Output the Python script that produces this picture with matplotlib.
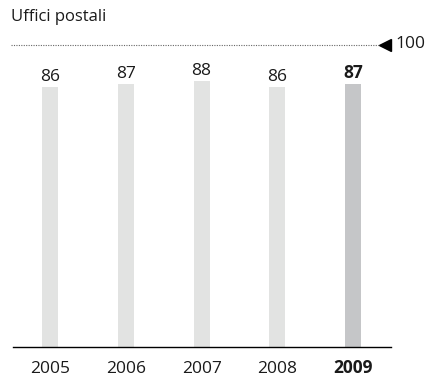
import matplotlib.pyplot as plt

years = ["2005", "2006", "2007", "2008", "2009"]
values = [86, 87, 88, 86, 87]
reference = 100
title = "Uffici postali"

plt.rcParams["font.family"] = ["Open Sans", "DejaVu Sans"]

fig = plt.figure(figsize=(4.28, 3.78), dpi=100)
ax = fig.add_axes([13 / 428, 1 - 347 / 378, 378 / 428, (347 - 44.5) / 378])

xs = range(len(years))
colors = ["#e2e3e2"] * (len(years) - 1) + ["#c5c6c8"]
ax.bar(xs, values, width=0.21, color=colors, zorder=2)

for i, v in enumerate(values):
    bold = i == len(values) - 1
    ax.annotate(str(v), (i, v), xytext=(0, 4.5), textcoords="offset points",
                ha="center", va="baseline", fontsize=12.5,
                fontweight="bold" if bold else "normal", color="#1a1a1a")

ax.set_xlim(-0.49, 4.5)
ax.set_ylim(0, 100)

# reference line at 100 with pointer
ax.plot([-0.005, 0.975], [1, 1], transform=ax.transAxes, color="#666666",
        linestyle=(0, (1, 1.2)), linewidth=0.8, clip_on=False)
ax.plot([0.985], [1], transform=ax.transAxes, marker="<", markersize=8,
        color="black", clip_on=False)
ax.text(1.012, 1, str(reference), transform=ax.transAxes, ha="left",
        va="center", fontsize=12.5, color="#1a1a1a")

for s in ["top", "right", "left"]:
    ax.spines[s].set_visible(False)
ax.spines["bottom"].set_linewidth(1.0)
ax.set_yticks([])
ax.set_xticks(list(xs))
ax.set_xticklabels(years, fontsize=12.5, color="#1a1a1a", va="baseline")
ax.get_xticklabels()[-1].set_fontweight("bold")
ax.tick_params(axis="x", length=0, pad=18.5)

fig.text(11 / 428, 1 - 17 / 378, title, ha="left", va="center",
         fontsize=12, color="#1a1a1a")

fig.savefig("out.png", dpi=100)
